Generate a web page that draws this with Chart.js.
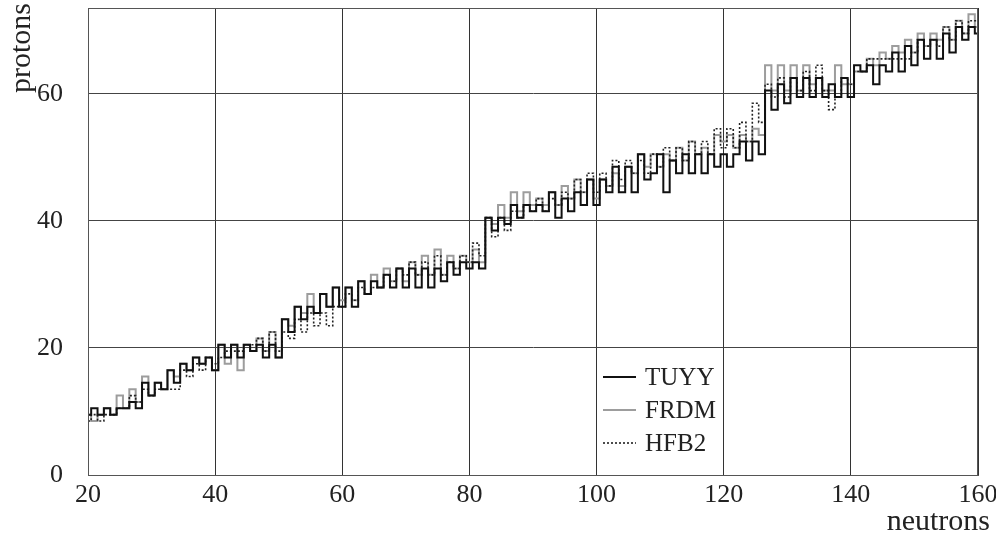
<!DOCTYPE html>
<html>
<head>
<meta charset="utf-8">
<script src="https://cdn.jsdelivr.net/npm/chart.js@4/dist/chart.umd.min.js"></script>
<style>
  html, body { margin: 0; padding: 0; background: #fff; }
  #wrap { width: 996px; height: 542px; position: relative; }
</style>
</head>
<body>
<div id="wrap"><canvas id="drip-chart"></canvas></div>
<script>
// neutron number for each column of the step lines
const neutrons = [
  20, 21, 22, 23, 24, 25, 26, 27, 28, 29,
  30, 31, 32, 33, 34, 35, 36, 37, 38, 39,
  40, 41, 42, 43, 44, 45, 46, 47, 48, 49,
  50, 51, 52, 53, 54, 55, 56, 57, 58, 59,
  60, 61, 62, 63, 64, 65, 66, 67, 68, 69,
  70, 71, 72, 73, 74, 75, 76, 77, 78, 79,
  80, 81, 82, 83, 84, 85, 86, 87, 88, 89,
  90, 91, 92, 93, 94, 95, 96, 97, 98, 99,
  100, 101, 102, 103, 104, 105, 106, 107, 108, 109,
  110, 111, 112, 113, 114, 115, 116, 117, 118, 119,
  120, 121, 122, 123, 124, 125, 126, 127, 128, 129,
  130, 131, 132, 133, 134, 135, 136, 137, 138, 139,
  140, 141, 142, 143, 144, 145, 146, 147, 148, 149,
  150, 151, 152, 153, 154, 155, 156, 157, 158, 159,
  160
];

// proton boundary (cell edge) per neutron number
const tuyy = [
  9.5, 10.5, 9.5, 10.5, 9.5, 10.5, 10.5, 11.5, 10.5, 14.5,
  12.5, 14.5, 13.5, 16.5, 14.5, 17.5, 16.5, 18.5, 17.5, 18.5,
  16.5, 20.5, 18.5, 20.5, 18.5, 20.5, 19.5, 20.5, 18.5, 20.5,
  18.5, 24.5, 22.5, 26.5, 24.5, 26.5, 25.5, 28.5, 26.5, 29.5,
  26.5, 29.5, 26.5, 30.5, 28.5, 30.5, 29.5, 31.5, 29.5, 32.5,
  29.5, 32.5, 29.5, 32.5, 29.5, 32.5, 30.5, 33.5, 31.5, 33.5,
  32.5, 33.5, 32.5, 40.5, 38.5, 40.5, 39.5, 42.5, 40.5, 42.5,
  41.5, 42.5, 41.5, 44.5, 40.5, 43.5, 41.5, 44.5, 42.5, 46.5,
  42.5, 46.5, 44.5, 48.5, 44.5, 48.5, 44.5, 50.5, 46.5, 47.5,
  50.5, 44.5, 49.5, 47.5, 50.5, 47.5, 50.5, 47.5, 50.5, 48.5,
  50.5, 48.5, 50.5, 52.5, 49.5, 52.5, 50.5, 60.5, 57.5, 61.5,
  58.5, 62.5, 59.5, 62.5, 59.5, 62.5, 59.5, 61.5, 59.5, 62.5,
  59.5, 64.5, 63.5, 64.5, 61.5, 64.5, 63.5, 66.5, 63.5, 67.5,
  64.5, 68.5, 65.5, 68.5, 65.5, 69.5, 66.5, 70.5, 68.5, 70.5,
  69.5
];

const frdm = [
  9.5, 8.5, 9.5, 10.5, 9.5, 12.5, 10.5, 13.5, 11.5, 15.5,
  12.5, 14.5, 13.5, 16.5, 15.5, 17.5, 16.5, 18.5, 17.5, 18.5,
  16.5, 20.5, 17.5, 20.5, 16.5, 20.5, 19.5, 21.5, 19.5, 22.5,
  18.5, 24.5, 23.5, 26.5, 25.5, 28.5, 25.5, 28.5, 26.5, 29.5,
  27.5, 29.5, 27.5, 30.5, 28.5, 31.5, 29.5, 32.5, 30.5, 32.5,
  30.5, 33.5, 31.5, 34.5, 31.5, 35.5, 31.5, 34.5, 32.5, 34.5,
  33.5, 35.5, 33.5, 40.5, 39.5, 42.5, 40.5, 44.5, 41.5, 44.5,
  42.5, 43.5, 42.5, 44.5, 42.5, 45.5, 43.5, 46.5, 44.5, 46.5,
  43.5, 46.5, 45.5, 47.5, 45.5, 48.5, 47.5, 50.5, 48.5, 50.5,
  48.5, 50.5, 49.5, 51.5, 49.5, 52.5, 50.5, 51.5, 50.5, 53.5,
  52.5, 53.5, 51.5, 53.5, 52.5, 54.5, 53.5, 64.5, 60.5, 64.5,
  60.5, 64.5, 60.5, 64.5, 61.5, 62.5, 60.5, 60.5, 64.5, 61.5,
  61.5, 63.5, 63.5, 65.5, 64.5, 66.5, 65.5, 67.5, 66.5, 68.5,
  66.5, 69.5, 67.5, 69.5, 68.5, 70.5, 68.5, 71.5, 69.5, 72.5,
  70.5
];

const hfb2 = [
  8.5, 9.5, 8.5, 9.5, 9.5, 10.5, 10.5, 12.5, 11.5, 13.5,
  12.5, 13.5, 13.5, 13.5, 13.5, 16.5, 15.5, 17.5, 16.5, 18.5,
  17.5, 18.5, 19.5, 19.5, 19.5, 20.5, 20.5, 21.5, 19.5, 22.5,
  19.5, 22.5, 21.5, 24.5, 22.5, 25.5, 23.5, 25.5, 23.5, 26.5,
  26.5, 28.5, 27.5, 29.5, 28.5, 29.5, 29.5, 31.5, 30.5, 32.5,
  31.5, 33.5, 31.5, 33.5, 31.5, 34.5, 31.5, 33.5, 32.5, 34.5,
  33.5, 36.5, 34.5, 40.5, 37.5, 40.5, 38.5, 41.5, 40.5, 42.5,
  41.5, 43.5, 41.5, 43.5, 42.5, 44.5, 43.5, 46.5, 44.5, 47.5,
  44.5, 47.5, 45.5, 49.5, 46.5, 49.5, 47.5, 49.5, 47.5, 50.5,
  48.5, 51.5, 49.5, 51.5, 49.5, 52.5, 50.5, 52.5, 50.5, 54.5,
  51.5, 54.5, 51.5, 55.5, 52.5, 58.5, 55.5, 61.5, 59.5, 62.5,
  59.5, 62.5, 60.5, 63.5, 60.5, 64.5, 60.5, 57.5, 59.5, 62.5,
  61.5, 63.5, 63.5, 65.5, 65.5, 65.5, 65.5, 65.5, 65.5, 65.5,
  66.5, 68.5, 67.5, 68.5, 67.5, 70.5, 68.5, 71.5, 69.5, 71.5,
  71.5
];

const neutronTicks = [20, 40, 60, 80, 100, 120, 140, 160];
const protonTicks = [0, 20, 40, 60];
const seriesNames = ['TUYY', 'FRDM', 'HFB2'];

const serif = "'Liberation Serif', 'DejaVu Serif', serif";

function points(values) {
    return neutrons.map((n, i) => ({ x: n, y: values[i] }));
}

// legend and axis names are drawn by hand so they can sit where they belong
const decorations = {
    id: 'decorations',
    afterDraw(chart) {
        const ctx = chart.ctx;
        const area = chart.chartArea;

        ctx.save();
        ctx.strokeStyle = '#555';
        ctx.lineWidth = 1;
        ctx.strokeRect(area.left + 0.5, area.top + 0.5, area.right - area.left - 1, area.bottom - area.top);

        ctx.fillStyle = '#222';
        ctx.font = '30px ' + serif;
        ctx.textBaseline = 'middle';
        ctx.textAlign = 'right';
        ctx.fillText('neutrons', 990, 522);

        ctx.translate(22, 3);
        ctx.rotate(-Math.PI / 2);
        ctx.fillText('protons', 0, 0);
        ctx.restore();

        ctx.save();
        ctx.font = '25px ' + serif;
        ctx.textBaseline = 'middle';
        ctx.textAlign = 'left';
        chart.data.datasets.forEach((ds, i) => {
            const y = 377 + i * 33;
            ctx.strokeStyle = ds.borderColor;
            ctx.lineWidth = ds.borderWidth;
            ctx.setLineDash(ds.borderDash || []);
            ctx.beginPath();
            ctx.moveTo(603, y);
            ctx.lineTo(636, y);
            ctx.stroke();
            ctx.fillStyle = '#222';
            ctx.fillText(ds.label, 645, y + 1);
        });
        ctx.restore();
    }
};

const ctx = document.getElementById('drip-chart').getContext('2d');
new Chart(ctx, {
    type: 'line',
    data: {
        datasets: [{
            label: seriesNames[0],
            data: points(tuyy),
            borderColor: '#111',
            borderWidth: 2,
            stepped: 'middle',
            pointRadius: 0,
            order: 1
        }, {
            label: seriesNames[1],
            data: points(frdm),
            borderColor: '#9d9d9d',
            borderWidth: 2,
            stepped: 'middle',
            pointRadius: 0,
            order: 3
        }, {
            label: seriesNames[2],
            data: points(hfb2),
            borderColor: '#222',
            borderWidth: 1.6,
            borderDash: [2, 2],
            stepped: 'middle',
            pointRadius: 0,
            order: 2
        }]
    },
    options: {
        responsive: true,
        maintainAspectRatio: false,
        animation: false,
        layout: {
            padding: { top: 8, right: 18, left: 0, bottom: 0 }
        },
        scales: {
            x: {
                type: 'linear',
                min: 20,
                max: 160,
                afterBuildTicks: scale => {
                    scale.ticks = neutronTicks.map(v => ({ value: v }));
                },
                afterFit: scale => {
                    scale.height = 67;
                    scale.paddingLeft = 0;
                    scale.paddingRight = 0;
                },
                ticks: {
                    color: '#222',
                    padding: 5,
                    maxRotation: 0,
                    font: { family: serif, size: 26 }
                },
                grid: {
                    color: '#333',
                    lineWidth: 1,
                    drawTicks: false
                },
                border: { color: '#555' }
            },
            y: {
                min: 0,
                max: 73.5,
                afterBuildTicks: scale => {
                    scale.ticks = protonTicks.map(v => ({ value: v }));
                },
                afterFit: scale => {
                    scale.width = 88;
                    scale.paddingTop = 0;
                    scale.paddingBottom = 0;
                },
                ticks: {
                    color: '#222',
                    padding: 25,
                    font: { family: serif, size: 26 }
                },
                grid: {
                    color: '#444',
                    lineWidth: 1,
                    drawTicks: false
                },
                border: { color: '#555' }
            }
        },
        plugins: {
            legend: { display: false },
            tooltip: { enabled: false }
        }
    },
    plugins: [decorations]
});
</script>
</body>
</html>
